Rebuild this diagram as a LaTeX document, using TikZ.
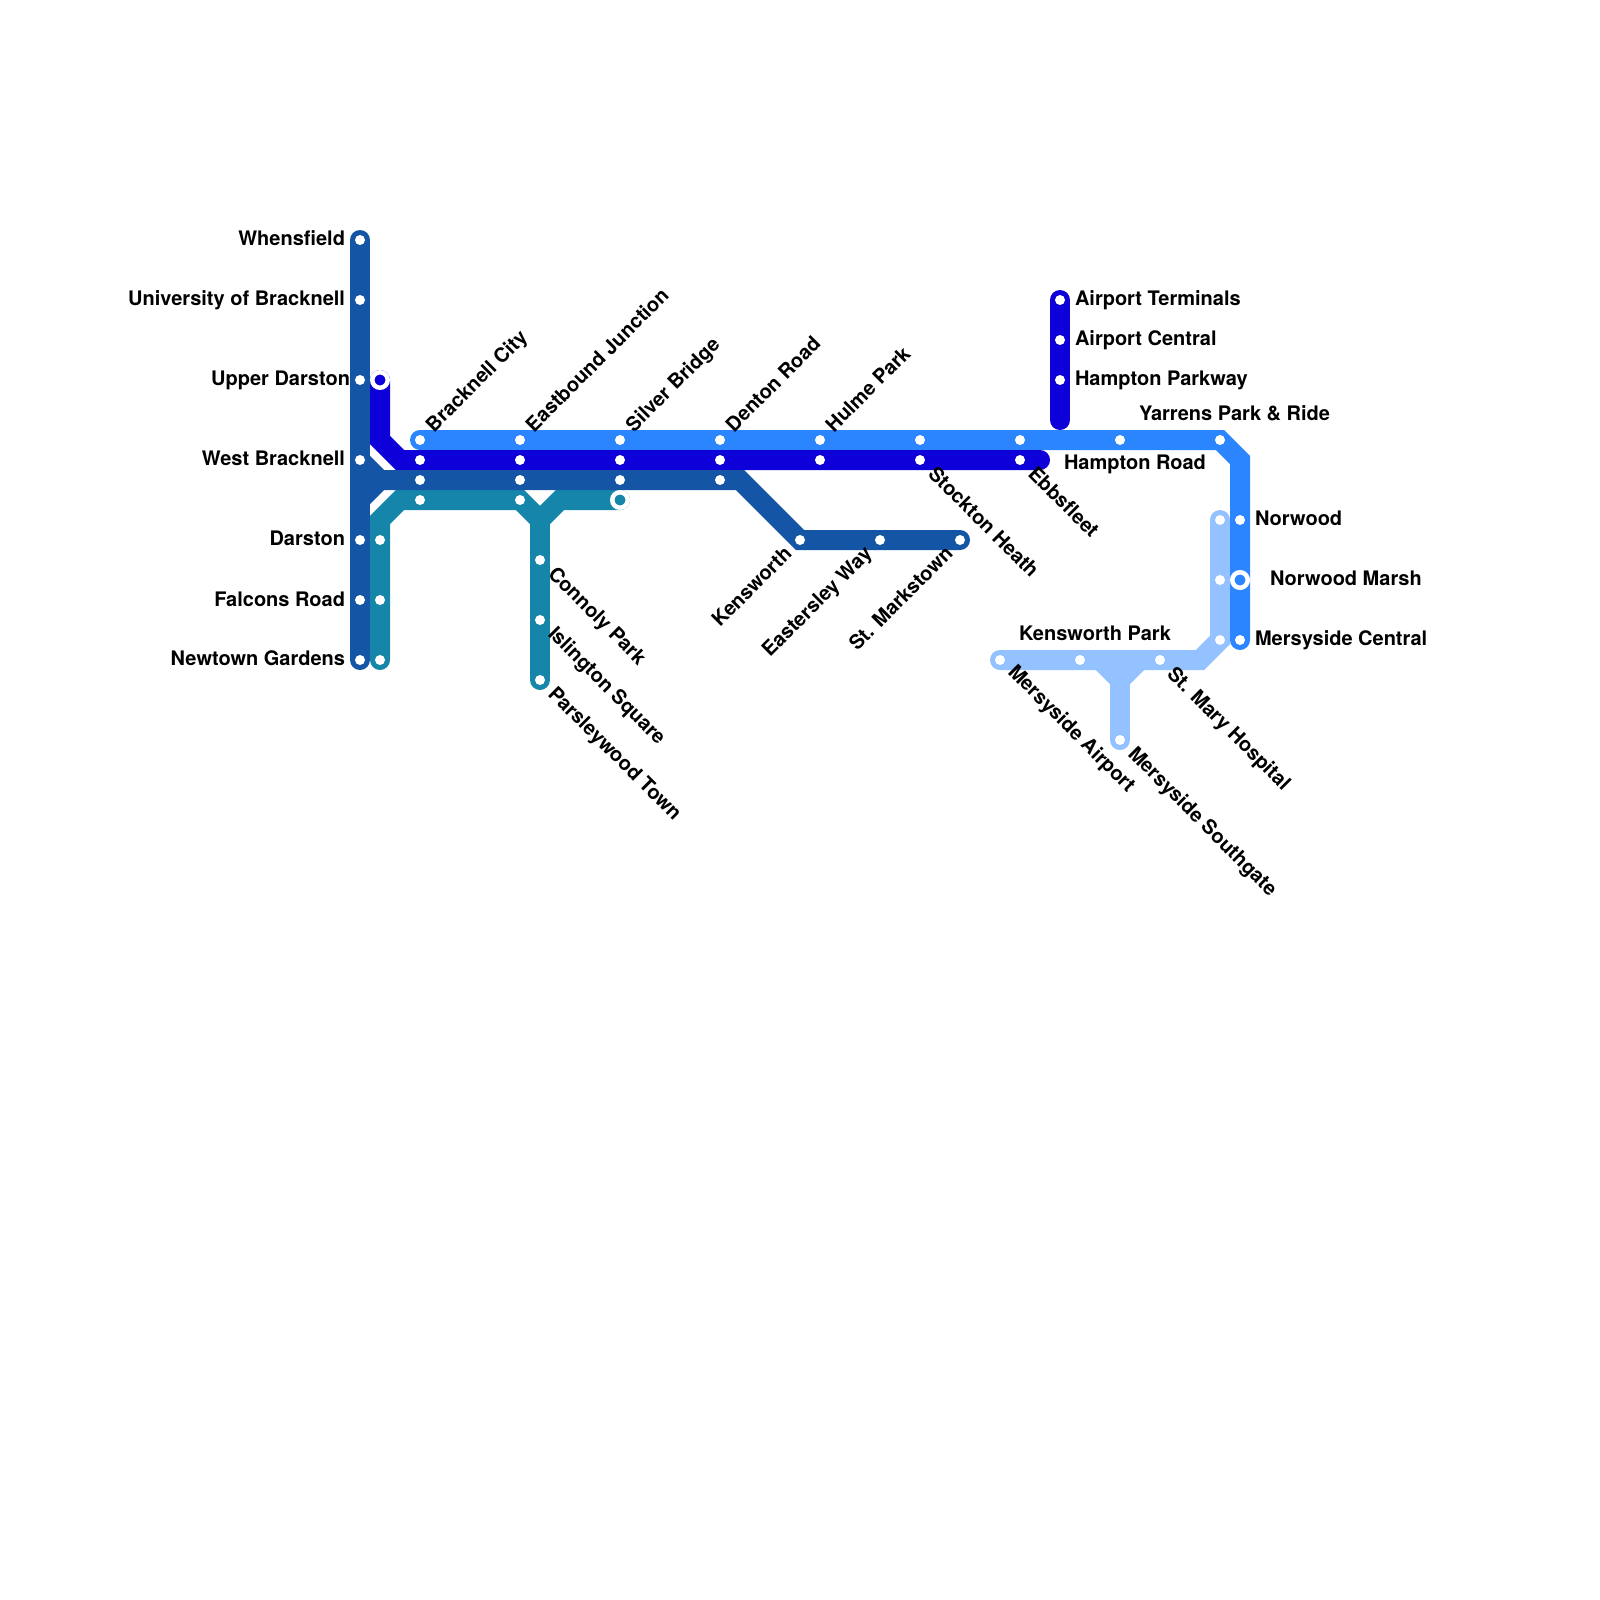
\documentclass[tikz,border=0pt]{standalone}
\usepackage{fontspec}
\setmainfont{TeX Gyre Heros}
\definecolor{cdark}{HTML}{1555A5}
\definecolor{cpurple}{HTML}{0E00D9}
\definecolor{cblue}{HTML}{2A85FF}
\definecolor{clight}{HTML}{94C1FF}
\definecolor{cteal}{HTML}{1585AA}
\tikzset{
  route/.style={line width=20pt,line cap=round,line join=miter,#1},
  stn/.style={circle,fill=white,draw=none,minimum size=10pt,inner sep=0pt,outer sep=0pt},
  hub/.style={circle,draw=white,line width=4.5pt,fill=#1,minimum size=15.5pt,inner sep=0pt,outer sep=0pt},
  lab/.style={inner sep=0pt,outer sep=0pt,text=black,font=\fontsize{20}{24}\selectfont\bfseries},
  lleft/.style={lab,anchor=base east},
  lright/.style={lab,anchor=base west},
  lup/.style={lab,anchor=base west,rotate=45},
  ldown/.style={lab,anchor=base west,rotate=-45},
  lupend/.style={lab,anchor=base east,rotate=45},
}
\begin{document}
\begin{tikzpicture}[x=1pt,y=-1pt]
\useasboundingbox (0,0) rectangle (1600,1600);
% station positions
\foreach \n/\x/\y in {
 dA/360/240,dB/360/300,dC/360/380,dD/360/460,dE/360/540,dF/360/600,dG/360/660,dTop/360/500,
 dJ/380/480,dH/420/480,dI/520/480,dK/620/480,dL/720/480,dBend/740/480,dM/800/540,dN/880/540,dO/960/540,
 pA/380/380,pB/380/440,pJ/400/460,pC/420/460,pD/520/460,pE/620/460,pF/720/460,pG/820/460,pH/920/460,pI/1020/460,pEnd/1040/460,
 qA/1060/300,qB/1060/340,qC/1060/380,qEnd/1060/420,
 bA/420/440,bB/520/440,bC/620/440,bD/720/440,bE/820/440,bF/920/440,bG/1020/440,bH/1120/440,bI/1220/440,bJ/1240/460,bK/1240/520,bL/1240/580,bM/1240/640,
 cA/1220/520,cB/1220/580,cC/1220/640,cJ/1200/660,cD/1160/660,cE/1080/660,cF/1000/660,cL/1100/660,cR/1140/660,cY/1120/680,cG/1120/740,
 tA/380/660,tB/380/600,tC/380/540,tJ/380/520,tK/400/500,tD/420/500,tE/520/500,tY/540/520,tZ/560/500,tF/620/500,tG/540/560,tH/540/620,tI/540/680}
 {\coordinate (\n) at (\x,\y);}
% routes
\draw[route=cteal] (tA) -- (tJ) -- (tK) -- (tE) -- (tY) -- (tZ) -- (tF);
\draw[route=cteal] (tY) -- (tI);
\draw[route=clight] (cA) -- (cC) -- (cJ) -- (cF);
\draw[route=clight] (cL) -- (cY) -- (cR);
\draw[route=clight] (cY) -- (cG);
\draw[route=cpurple] (qA) -- (qEnd);
\draw[route=cblue] (bA) -- (bI) -- (bJ) -- (bM);
\draw[route=cpurple] (pA) -- (pB) -- (pJ) -- (pEnd);
\draw[route=cdark] (dA) -- (dG);
\draw[route=cdark] (dD) -- (dJ) -- (dBend) -- (dM) -- (dO);
\draw[route=cdark,line cap=butt] (dTop) -- (dJ);
% stations
\foreach \n in {dA,dB,dC,dD,dE,dF,dG,dH,dI,dK,dL,dM,dN,dO,pC,pD,pE,pF,pG,pH,pI,qA,qB,qC,bA,bB,bC,bD,bE,bF,bG,bH,bI,bK,bM,cA,cB,cC,cD,cE,cF,cG,tA,tB,tC,tD,tE,tG,tH,tI}
 {\node[stn] (s\n) at (\n) {};}
\node[hub=cpurple] (spA) at (pA) {};
\node[hub=cteal] (stF) at (tF) {};
\node[hub=cblue] (sbL) at (bL) {};
% labels
\node[lleft] (l1) at (345,245) {Whensfield};
\node[lleft] (l2) at (345,305) {University of Bracknell};
\node[lleft] (l3) at (350,385) {Upper Darston};
\node[lleft] (l4) at (345,465) {West Bracknell};
\node[lleft] (l5) at (345,545) {Darston};
\node[lleft] (l6) at (345,606) {Falcons Road};
\node[lleft] (l7) at (345,665) {Newtown Gardens};
\node[lup] (l8) at (434,433) {Bracknell City};
\node[lup] (l9) at (534,433) {Eastbound Junction};
\node[lup] (l10) at (634,433) {Silver Bridge};
\node[lup] (l11) at (734,433) {Denton Road};
\node[lup] (l12) at (834,433) {Hulme Park};
\node[ldown] (l13) at (927,475) {Stockton Heath};
\node[ldown] (l14) at (1027,475) {Ebbsfleet};
\node[ldown] (l15) at (547,575) {Connoly Park};
\node[ldown] (l16) at (547,635) {Islington Square};
\node[ldown] (l17) at (547,695) {Parsleywood Town};
\node[ldown] (l18) at (1007,673) {Mersyside Airport};
\node[ldown] (l19) at (1127,755) {Mersyside Southgate};
\node[ldown] (l20) at (1166,675) {St. Mary Hospital};
\node[lupend] (l21) at (793,555) {Kensworth};
\node[lupend] (l22) at (873,555) {Eastersley Way};
\node[lupend] (l23) at (954,555) {St. Markstown};
\node[lright] (l24) at (1075,305) {Airport Terminals};
\node[lright] (l25) at (1075,345) {Airport Central};
\node[lright] (l26) at (1075,385) {Hampton Parkway};
\node[lright] (l27) at (1139,420) {Yarrens Park \& Ride};
\node[lright] (l28) at (1064,469) {Hampton Road};
\node[lright] (l29) at (1255,525) {Norwood};
\node[lright] (l30) at (1270,585) {Norwood Marsh};
\node[lright] (l31) at (1255,645) {Mersyside Central};
\node[lright] (l32) at (1019,640) {Kensworth Park};
\end{tikzpicture}
\end{document}
